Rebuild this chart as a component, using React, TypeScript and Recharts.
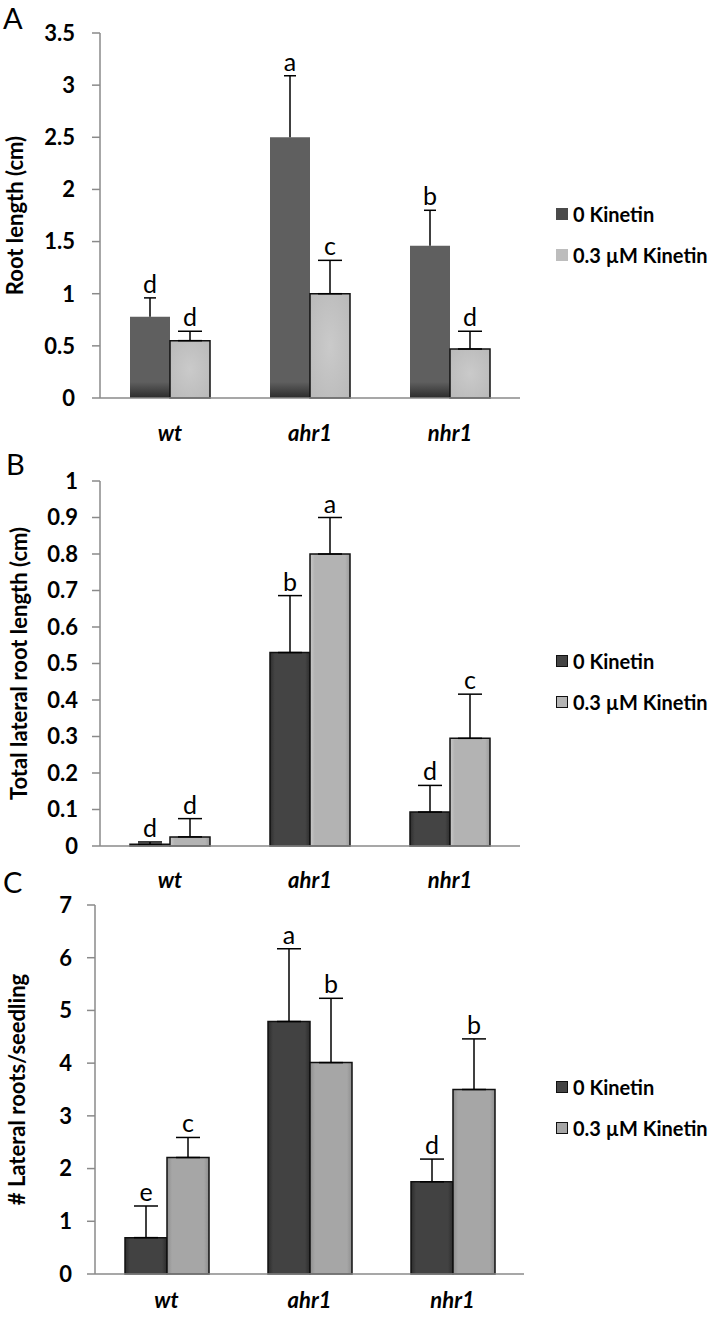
import React from 'react';
import { BarChart, Bar, XAxis, YAxis, ErrorBar, LabelList, Legend } from 'recharts';

const FONT = 'Lato, "Open Sans", sans-serif';
const AXIS = '#8a8a8a';

const categories = ['wt', 'ahr1', 'nhr1'];
const seriesNames = ['0 Kinetin', '0.3 µM Kinetin'];
const categoryBounds = [0, 1, 2, 3];

// Panel A: root length (cm)
const rootLen0 = [0.78, 2.5, 1.46];
const rootLenErr0 = [0.18, 0.59, 0.34];
const rootLenLetters0 = ['d', 'a', 'b'];
const rootLen1 = [0.55, 1.0, 0.47];
const rootLenErr1 = [0.09, 0.32, 0.17];
const rootLenLetters1 = ['d', 'c', 'd'];
const rootLenTicks = [0, 0.5, 1, 1.5, 2, 2.5, 3, 3.5];

// Panel B: total lateral root length (cm)
const latLen0 = [0.005, 0.53, 0.093];
const latLenErr0 = [0.006, 0.156, 0.073];
const latLenLetters0 = ['d', 'b', 'd'];
const latLen1 = [0.025, 0.8, 0.295];
const latLenErr1 = [0.05, 0.1, 0.121];
const latLenLetters1 = ['d', 'a', 'c'];
const latLenTicks = [0, 0.1, 0.2, 0.3, 0.4, 0.5, 0.6, 0.7, 0.8, 0.9, 1];

// Panel C: # lateral roots / seedling
const latNum0 = [0.69, 4.79, 1.75];
const latNumErr0 = [0.6, 1.38, 0.43];
const latNumLetters0 = ['e', 'a', 'd'];
const latNum1 = [2.21, 4.01, 3.5];
const latNumErr1 = [0.38, 1.22, 0.96];
const latNumLetters1 = ['c', 'b', 'b'];
const latNumTicks = [0, 1, 2, 3, 4, 5, 6, 7];

function buildRows(v0: number[], e0: number[], v1: number[], e1: number[]) {
  return categories.map((c, i) => ({ cat: c, v0: v0[i], e0: [0, e0[i]], v1: v1[i], e1: [0, e1[i]] }));
}

const makeLetter = (letters: string[], errs: number[], whisker: boolean) => (props: any) => {
  const vb = props.viewBox || {};
  const x = props.x ?? vb.x;
  const y = props.y ?? vb.y;
  const w = props.width ?? vb.width;
  const h = props.height ?? vb.height;
  const v = Number(props.value);
  const i = props.index;
  if (x == null || !v || i == null) return null;
  const errPx = (h / v) * errs[i];
  const cx = x + w / 2;
  const topY = y - errPx;
  return (
    <g>
      {whisker && (
        <g stroke="#000" strokeWidth={1.5}>
          <line x1={cx} y1={y} x2={cx} y2={topY} />
          <line x1={cx - 6} y1={topY} x2={cx + 6} y2={topY} />
        </g>
      )}
      <text x={cx} y={topY - 5} textAnchor="middle" fontFamily={FONT} fontSize={25} fill="#000">
        {letters[i]}
      </text>
    </g>
  );
};

const makeYLabel = (text: string, dx: number, fontSize: number) => (props: any) => {
  const vb = props.viewBox || {};
  const cx = (vb.x ?? 0) + dx;
  const cy = (vb.y ?? 0) + (vb.height ?? 0) / 2;
  return (
    <text x={cx} y={cy} transform={`rotate(-90 ${cx} ${cy})`} textAnchor="middle" dominantBaseline="central"
      fontFamily={FONT} fontWeight={700} fontSize={fontSize} fill="#000">
      {text}
    </text>
  );
};

const makeLegend = (fills: string[], bordered: boolean) => (props: any) => {
  const payload = props.payload || [];
  return (
    <div style={{ fontFamily: FONT, fontWeight: 700, fontSize: 20, color: '#000' }}>
      {payload.map((p: any, i: number) => (
        <div key={i} style={{ display: 'flex', alignItems: 'center', height: 41, whiteSpace: 'nowrap' }}>
          <span style={{ display: 'inline-block', width: 12, height: 12, background: fills[i],
            border: bordered ? '1.5px solid #111' : 'none', boxSizing: 'border-box', marginRight: 5 }} />
          <span>{p.value}</span>
        </div>
      ))}
    </div>
  );
};

type PanelProps = {
  top: number;
  height: number;
  margin: { top: number; right: number; bottom: number; left: number };
  yWidth: number;
  yMax: number;
  ticks: number[];
  yTickMargin: number;
  xTickMargin: number;
  yLabel: string;
  yLabelDx: number;
  yLabelSize: number;
  legendTop: number;
  rows: any[];
  letters0: string[];
  letters1: string[];
  errs0: number[];
  errs1: number[];
  fill0: string;
  fill1: string;
  stroke0: string;
  whisker0: boolean;
  legendFills: string[];
  legendBordered: boolean;
  defs: React.ReactNode;
};

function Panel(p: PanelProps) {
  return (
    <div style={{ position: 'absolute', left: 0, top: p.top, width: 717, height: p.height }}>
      <BarChart width={717} height={p.height} data={p.rows} margin={p.margin} barCategoryGap={30} barGap={0}>
        <defs>{p.defs}</defs>
        <XAxis xAxisId="bnd" type="number" domain={[0, 3]} ticks={categoryBounds} height={0} tick={false}
          axisLine={false} tickLine={{ stroke: AXIS, strokeWidth: 1.5 }} tickSize={6} allowDataOverflow />
        <XAxis xAxisId="cat" dataKey="cat" height={40} tickLine={false} axisLine={{ stroke: AXIS, strokeWidth: 1.5 }}
          tickMargin={p.xTickMargin}
          tick={{ fontFamily: FONT, fontWeight: 700, fontStyle: 'italic', fontSize: 22, fill: '#000' }} />
        <XAxis xAxisId="top" dataKey="cat" orientation="top" height={0} tick={false} tickLine={false}
          axisLine={{ stroke: AXIS, strokeWidth: 1.5 }} />
        <YAxis yAxisId="l" type="number" domain={[0, p.yMax]} ticks={p.ticks} interval={0} width={p.yWidth}
          tickSize={8} tickMargin={p.yTickMargin} axisLine={{ stroke: AXIS, strokeWidth: 1.5 }}
          tickLine={{ stroke: AXIS, strokeWidth: 1.5 }}
          tick={{ fontFamily: FONT, fontWeight: 700, fontSize: 22, fill: '#000' }}
          label={{ content: makeYLabel(p.yLabel, p.yLabelDx, p.yLabelSize) } as any} />
        <YAxis yAxisId="r" orientation="right" type="number" domain={[0, p.yMax]} width={0} tick={false}
          tickLine={false} axisLine={{ stroke: AXIS, strokeWidth: 1.5 }} />
        <Legend layout="vertical" align="right" verticalAlign="top"
          wrapperStyle={{ left: 556, top: p.legendTop, width: 161 }}
          content={makeLegend(p.legendFills, p.legendBordered)} />
        <Bar xAxisId="cat" yAxisId="l" dataKey="v0" name={seriesNames[0]} fill={p.fill0} stroke={p.stroke0}
          strokeWidth={1.5} isAnimationActive={false}>
          {!p.whisker0 && <ErrorBar dataKey="e0" width={12} stroke="#000" strokeWidth={1.5} direction="y" />}
          <LabelList dataKey="v0" content={makeLetter(p.letters0, p.errs0, p.whisker0)} />
        </Bar>
        <Bar xAxisId="cat" yAxisId="l" dataKey="v1" name={seriesNames[1]} fill={p.fill1} stroke="#111"
          strokeWidth={1.5} isAnimationActive={false}>
          <ErrorBar dataKey="e1" width={12} stroke="#000" strokeWidth={1.5} direction="y" />
          <LabelList dataKey="v1" content={makeLetter(p.letters1, p.errs1, false)} />
        </Bar>
      </BarChart>
    </div>
  );
}

const panelLetter = (text: string, left: number, top: number) => (
  <div style={{ position: 'absolute', left, top, fontFamily: FONT, fontSize: 29, lineHeight: '36px', color: '#000' }}>
    {text}
  </div>
);

export default function App() {
  return (
    <div style={{ position: 'absolute', left: 0, top: 0, width: 717, height: 1318, background: '#fff', overflow: 'hidden' }}>
      <Panel
        top={0} height={456}
        margin={{ top: 33, right: 36, bottom: 18, left: 0 }}
        yWidth={100} yMax={3.5} ticks={rootLenTicks} yTickMargin={17} xTickMargin={21}
        yLabel="Root length (cm)" yLabelDx={14} yLabelSize={22} legendTop={193}
        rows={buildRows(rootLen0, rootLenErr0, rootLen1, rootLenErr1)}
        letters0={rootLenLetters0} letters1={rootLenLetters1} errs0={rootLenErr0} errs1={rootLenErr1}
        fill0="url(#aDark)" fill1="url(#aLight)" stroke0="none" whisker0={true}
        legendFills={['#4a4a4a', '#bdbdbd']} legendBordered={false}
        defs={[
          <linearGradient key="d" id="aDark" gradientUnits="userSpaceOnUse" x1="0" y1="382" x2="0" y2="398">
            <stop offset="0" stopColor="#5f5f5f" />
            <stop offset="1" stopColor="#2c2c2c" />
          </linearGradient>,
          <radialGradient key="l" id="aLight" cx="0.5" cy="0.5" r="0.7">
            <stop offset="0" stopColor="#cacaca" />
            <stop offset="1" stopColor="#b9b9b9" />
          </radialGradient>,
        ]}
      />
      <Panel
        top={440} height={462}
        margin={{ top: 41, right: 36, bottom: 16, left: 0 }}
        yWidth={100} yMax={1} ticks={latLenTicks} yTickMargin={14} xTickMargin={20}
        yLabel="Total lateral root length (cm)" yLabelDx={18} yLabelSize={22} legendTop={200}
        rows={buildRows(latLen0, latLenErr0, latLen1, latLenErr1)}
        letters0={latLenLetters0} letters1={latLenLetters1} errs0={latLenErr0} errs1={latLenErr1}
        fill0="url(#bDark)" fill1="url(#bLight)" stroke0="#111" whisker0={false}
        legendFills={['#444', '#b5b5b5']} legendBordered={true}
        defs={[
          <linearGradient key="d" id="bDark" x1="0" y1="0" x2="1" y2="0">
            <stop offset="0" stopColor="#2e2e2e" />
            <stop offset="0.12" stopColor="#444" />
            <stop offset="0.88" stopColor="#444" />
            <stop offset="1" stopColor="#2e2e2e" />
          </linearGradient>,
          <linearGradient key="l" id="bLight" x1="0" y1="0" x2="1" y2="0">
            <stop offset="0" stopColor="#c9c9c9" />
            <stop offset="0.12" stopColor="#b3b3b3" />
            <stop offset="0.88" stopColor="#b3b3b3" />
            <stop offset="1" stopColor="#9c9c9c" />
          </linearGradient>,
        ]}
      />
      <Panel
        top={870} height={448}
        margin={{ top: 35, right: 32, bottom: 4, left: 0 }}
        yWidth={95} yMax={7} ticks={latNumTicks} yTickMargin={15} xTickMargin={12}
        yLabel="# Lateral roots/seedling" yLabelDx={16} yLabelSize={22} legendTop={196}
        rows={buildRows(latNum0, latNumErr0, latNum1, latNumErr1)}
        letters0={latNumLetters0} letters1={latNumLetters1} errs0={latNumErr0} errs1={latNumErr1}
        fill0="url(#cDark)" fill1="url(#cLight)" stroke0="#111" whisker0={false}
        legendFills={['#444', '#a5a5a5']} legendBordered={true}
        defs={[
          <linearGradient key="d" id="cDark" x1="0" y1="0" x2="1" y2="0">
            <stop offset="0" stopColor="#2c2c2c" />
            <stop offset="0.12" stopColor="#424242" />
            <stop offset="0.88" stopColor="#424242" />
            <stop offset="1" stopColor="#2c2c2c" />
          </linearGradient>,
          <linearGradient key="l" id="cLight" x1="0" y1="0" x2="1" y2="0">
            <stop offset="0" stopColor="#8e8e8e" />
            <stop offset="0.12" stopColor="#a6a6a6" />
            <stop offset="0.88" stopColor="#a6a6a6" />
            <stop offset="1" stopColor="#8e8e8e" />
          </linearGradient>,
        ]}
      />
      {panelLetter('A', 3, 0)}
      {panelLetter('B', 6, 446)}
      {panelLetter('C', 3, 864)}
    </div>
  );
}
